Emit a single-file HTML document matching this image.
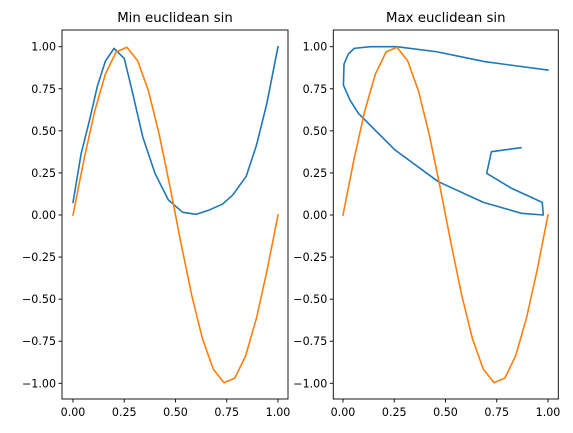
<!DOCTYPE html>
<html><head><meta charset="utf-8"><style>
body{margin:0;background:#fff}
svg{display:block;font-family:"DejaVu Sans","Liberation Sans",sans-serif}
</style></head><body>
<svg id="fig" width="573" height="433" viewBox="0 0 573 433"></svg>
<script>
const xTicks=[0,0.25,0.5,0.75,1];
const xTickLabels=["0.00","0.25","0.50","0.75","1.00"];
const yTicks=[1,0.75,0.5,0.25,0,-0.25,-0.5,-0.75,-1];
const yTickLabels=["1.00","0.75","0.50","0.25","0.00","−0.25","−0.50","−0.75","−1.00"];
const sinX=[0,0.0526,0.1053,0.1579,0.2105,0.2632,0.3158,0.3684,0.4211,0.4737,0.5263,0.5789,0.6316,0.6842,0.7368,0.7895,0.8421,0.8947,0.9474,1];
const sinY=[0,0.3247,0.6142,0.8372,0.9694,0.9966,0.9158,0.7357,0.4759,0.1646,-0.1646,-0.4759,-0.7357,-0.9158,-0.9966,-0.9694,-0.8372,-0.6142,-0.3247,0];
const minX=[0,0.04,0.08,0.119,0.158,0.2,0.25,0.29,0.34,0.4,0.465,0.535,0.6,0.665,0.73,0.78,0.845,0.895,0.945,1.0];
const minY=[0.075,0.366,0.56,0.766,0.914,0.99,0.93,0.73,0.465,0.247,0.09,0.016,0.004,0.03,0.065,0.12,0.23,0.415,0.66,1.0];
const maxX=[0.868,0.724,0.701,0.823,0.972,0.977,0.871,0.685,0.465,0.254,0.156,0.075,0.034,0.002,0.005,0.026,0.055,0.132,0.262,0.457,0.693,1.0];
const maxY=[0.4,0.376,0.248,0.158,0.075,0.0,0.01,0.075,0.198,0.386,0.505,0.604,0.683,0.772,0.897,0.956,0.99,1.0,1.0,0.97,0.911,0.861];

const NS="http://www.w3.org/2000/svg";
const svg=document.getElementById('fig');
function mk(tag,attrs,parent){const e=document.createElementNS(NS,tag);for(const k in attrs)e.setAttribute(k,attrs[k]);(parent||svg).appendChild(e);return e;}

function panel(name,left,right,x0px,x1px,title,series){
  const top=30,bottom=399;
  const xs=v=>x0px+v*(x1px-x0px);
  const ys=v=>215-v*168.3;
  const g=mk('g',{});
  
  
  const t=mk('text',{x:(left+right)/2,y:22,'text-anchor':'middle','font-size':'13.3',fill:'#000'},g);
  t.textContent=title;
  
  
  series.forEach(s=>{
    const pts=s.x.map((v,i)=>xs(v).toFixed(2)+','+ys(s.y[i]).toFixed(2)).join(' ');
    const pl=mk('polyline',{points:pts,fill:'none',stroke:s.c,'stroke-width':1.6,'stroke-linejoin':'round','stroke-linecap':'square'},g);
    
    
  });
  const fr=mk('rect',{x:left,y:top,width:right-left,height:bottom-top,fill:'none',stroke:'#000','stroke-width':0.9},g);
  
  
  xTicks.forEach((v,i)=>{
    const x=xs(v);
    mk('line',{x1:x,x2:x,y1:bottom,y2:bottom+3.5,stroke:'#000','stroke-width':0.9},g);
    const l=mk('text',{x:x,y:bottom+17,'text-anchor':'middle','font-size':'11.1',fill:'#000'},g);
    l.textContent=xTickLabels[i];
    
    
  });
  yTicks.forEach((v,i)=>{
    const y=ys(v);
    mk('line',{x1:left-3.5,x2:left,y1:y,y2:y,stroke:'#000','stroke-width':0.9},g);
    const l=mk('text',{x:left-6,y:y+4,'text-anchor':'end','font-size':'11.1',fill:'#000'},g);
    l.textContent=yTickLabels[i];
    
    
  });
}
panel('min',62,288,73,278,'Min euclidean sin',[{n:'blue-line',x:minX,y:minY,c:'#1f77b4'},{n:'orange-sin',x:sinX,y:sinY,c:'#ff7f0e'}]);
panel('max',333.3,558.3,343,548,'Max euclidean sin',[{n:'blue-line',x:maxX,y:maxY,c:'#1f77b4'},{n:'orange-sin',x:sinX,y:sinY,c:'#ff7f0e'}]);
</script>
</body></html>
